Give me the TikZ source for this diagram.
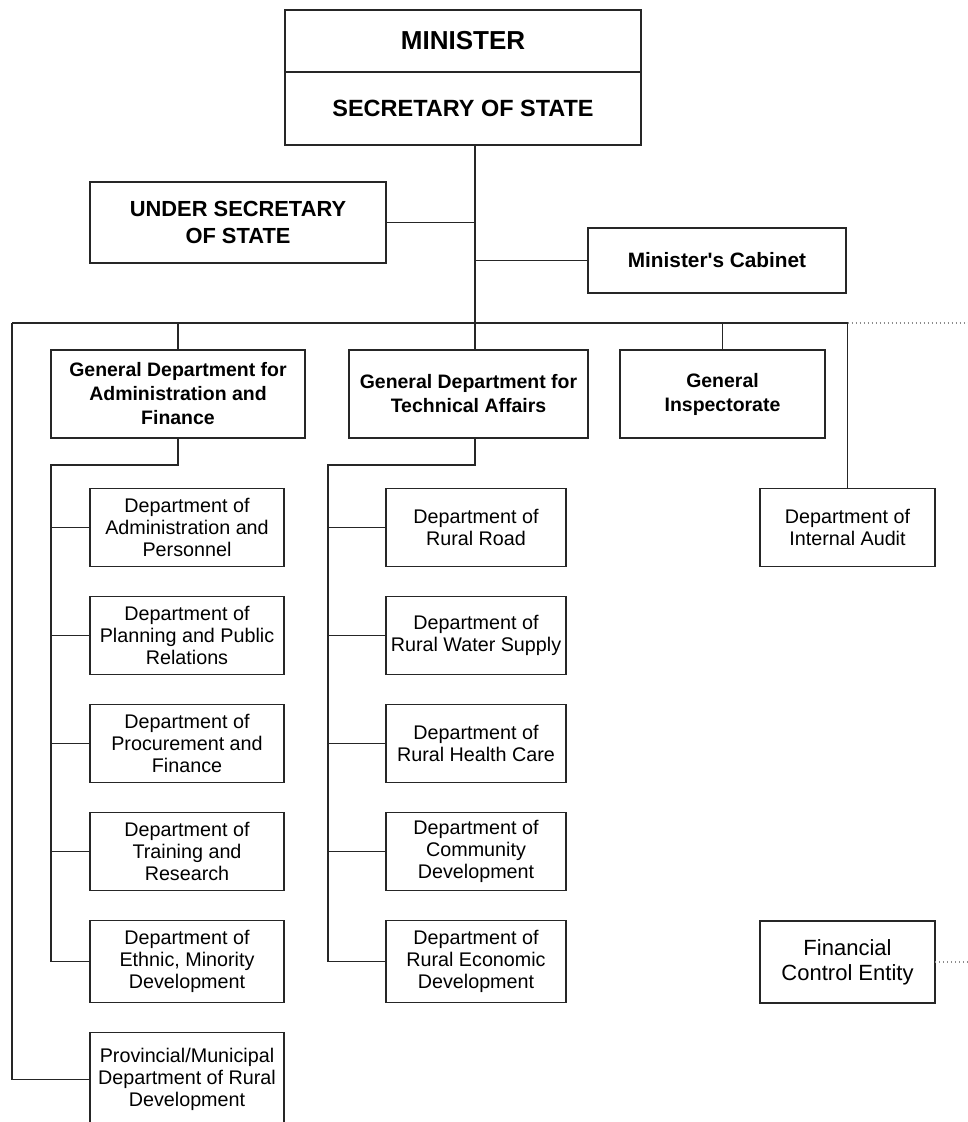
\documentclass[tikz,border=0pt]{standalone}
\usepackage{fontspec}
\setmainfont{Liberation Sans}
\usetikzlibrary{positioning}

\tikzset{
  box/.style={draw=black!85, line width=1.2pt, inner sep=0pt, outer sep=0pt, align=center,
    font=\fontsize{14.8}{16.5}\selectfont},
  headbox/.style={box, minimum height=66pt, font=\bfseries\fontsize{14.6}{18}\selectfont},
  dept/.style={box, minimum width=145.5pt, minimum height=58.5pt},
  rdept/.style={box, minimum width=135pt, minimum height=58.5pt},
  link/.style={draw=black!85, line width=1.3pt},
  loose/.style={draw=black!45, dotted, line width=1pt}
}

\begin{document}
\begin{tikzpicture}[x=0.75pt, y=-0.75pt, node distance=22.5pt]
\clip (0,0) rectangle (968,1122);
\fill[white] (0,0) rectangle (968,1122);

  % top of the ministry
  \node[box, minimum width=267pt, minimum height=46.5pt,
        font=\bfseries\fontsize{19.5}{22}\selectfont] (min) at (463,41) {MINISTER};
  \node[box, minimum width=267pt, minimum height=54.75pt,
        font=\bfseries\fontsize{17.6}{20}\selectfont, below=0pt of min] (sec) {SECRETARY OF STATE};

  \node[box, minimum width=222pt, minimum height=61pt,
        font=\bfseries\fontsize{16.4}{20}\selectfont] (under) at (238,222.5) {UNDER SECRETARY\\OF STATE};
  \node[box, minimum width=193.5pt, minimum height=48.75pt,
        font=\bfseries\fontsize{15.6}{18}\selectfont] (cab) at (717,260.5) {Minister\textquotesingle s Cabinet};

  \coordinate (bus) at (475,323);
  \coordinate (bus_l) at (12,323);
  \coordinate (bus_r) at (847.5,323);
  \coordinate (edge_r) at (968,323);

  \draw[link] (sec.south -| bus) -- (bus);
  \draw[link] (under.east) -- (under.east -| bus);
  \draw[link] (cab.west -| bus) -- (cab.west);
  \draw[link] (bus_l) -- (bus_r);
  \draw[loose] (bus_r) -- (edge_r);

  % general departments
  \node[headbox, minimum width=190.5pt] (gd_adm) at (178,394)
    {General Department for\\Administration and\\Finance};
  \node[headbox, minimum width=179.25pt] (gd_tech) at (468.5,394)
    {General Department for\\Technical Affairs};
  \node[headbox, minimum width=153.75pt] (gd_insp) at (722.5,394)
    {General\\Inspectorate};

  \draw[link] (gd_adm.north |- bus) -- (gd_adm.north);
  \draw[link] (bus) -- (bus |- gd_tech.north);
  \draw[link] (gd_insp.north |- bus) -- (gd_insp.north);

  % administration and finance
  \node[dept] (d_pers) at (187,527.5) {Department of\\Administration and\\Personnel};
  \node[dept, below=of d_pers] (d_plan) {Department of\\Planning and Public\\Relations};
  \node[dept, below=of d_plan] (d_proc) {Department of\\Procurement and\\Finance};
  \node[dept, below=of d_proc] (d_train) {Department of\\Training and\\Research};
  \node[dept, below=of d_train, minimum height=61.5pt] (d_ethnic) {Department of\\Ethnic, Minority\\Development};
  \node[dept, below=of d_ethnic, minimum height=70.5pt] (d_prov)
    {Provincial/Municipal\\Department of Rural\\Development};

  \coordinate (adm_sp) at (51,465);
  \draw[link] (gd_adm.south) -- (gd_adm.south |- adm_sp) -- (adm_sp) -- (adm_sp |- d_ethnic);
  \foreach \d in {d_pers,d_plan,d_proc,d_train,d_ethnic}
    \draw[link] (adm_sp |- \d) -- (\d.west);
  \draw[link] (bus_l) -- (bus_l |- d_prov) -- (d_prov.west);

  % technical affairs
  \node[rdept] (d_road) at (476,527.5) {Department of\\Rural Road};
  \node[rdept, below=of d_road] (d_water) {Department of\\Rural Water Supply};
  \node[rdept, below=of d_water] (d_health) {Department of\\Rural Health Care};
  \node[rdept, below=of d_health] (d_comm) {Department of\\Community\\Development};
  \node[rdept, below=of d_comm, minimum height=61.5pt] (d_econ) {Department of\\Rural Economic\\Development};

  \coordinate (tech_sp) at (328,465);
  \draw[link] (bus |- gd_tech.south) -- (bus |- tech_sp) -- (tech_sp) -- (tech_sp |- d_econ);
  \foreach \d in {d_road,d_water,d_health,d_comm,d_econ}
    \draw[link] (tech_sp |- \d) -- (\d.west);

  % audit and control
  \node[box, minimum width=131.25pt, minimum height=58.5pt] (d_audit) at (847.5,527.5)
    {Department of\\Internal Audit};
  \node[box, minimum width=131.25pt, minimum height=61.5pt,
        font=\fontsize{16.5}{19}\selectfont] (fin) at (847.5,962) {Financial\\Control Entity};
  \coordinate (edge_f) at (968,962);

  \draw[link] (bus_r) -- (d_audit.north);
  \draw[loose] (fin.east) -- (edge_f);

\end{tikzpicture}
\end{document}
